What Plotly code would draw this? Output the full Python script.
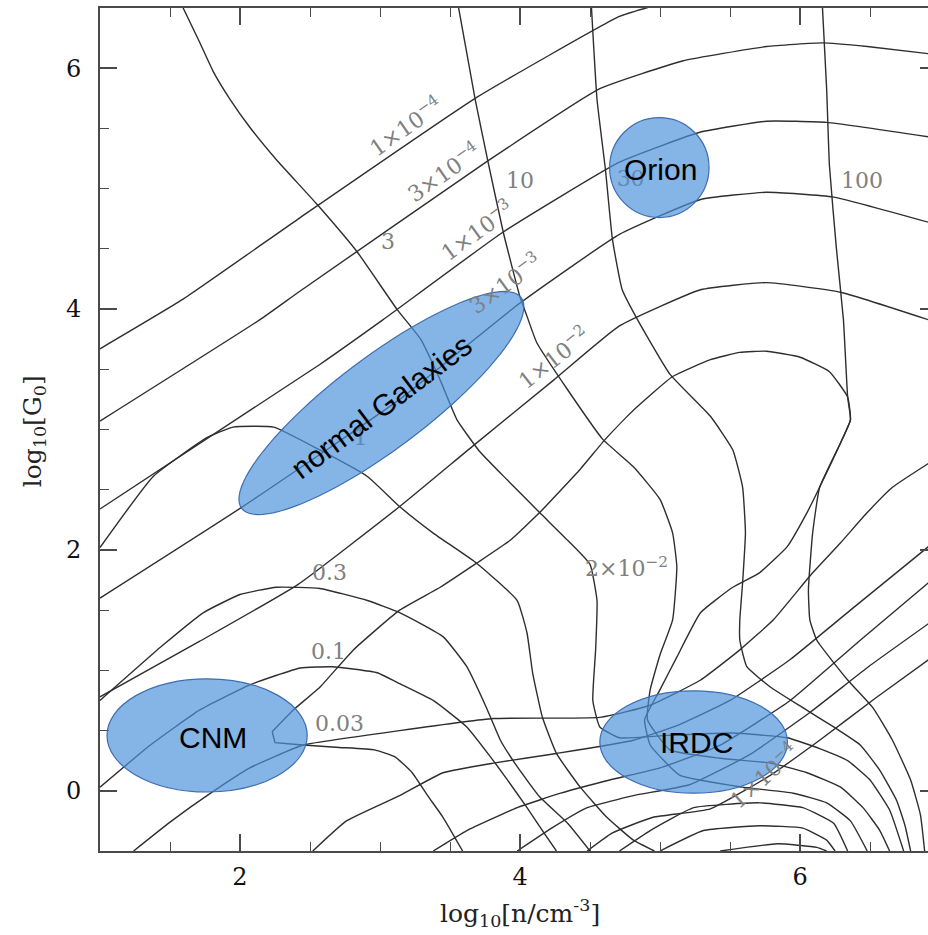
import math
import plotly.graph_objects as go

# ---------------- axis settings (data units) ----------------
X_RANGE = [1.0, 6.914]
Y_RANGE = [-0.5, 6.5]
X_TICKS = [2, 4, 6]
Y_TICKS = [0, 2, 4, 6]

# ---------------- contour lines: x = log10 n, y = log10 G0 ----------------
A1_X = [1.00, 1.59, 2.43, 3.68, 4.71, 4.93]
A1_Y = [3.67, 4.08, 4.76, 5.75, 6.43, 6.51]

A2_X = [1.00, 2.14, 2.43, 3.77, 4.57, 5.16, 5.76, 6.16, 6.48, 6.92]
A2_Y = [3.07, 3.91, 4.15, 5.23, 5.83, 6.06, 6.18, 6.21, 6.18, 6.12]

A3_X = [1.00, 2.57, 3.02, 3.88, 4.71, 5.29, 5.76, 6.19, 6.92]
A3_Y = [2.34, 3.54, 3.91, 4.64, 5.22, 5.47, 5.56, 5.55, 5.43]

A4_X = [1.00, 2.02, 3.14, 4.00, 4.71, 5.29, 5.76, 6.24, 6.92]
A4_Y = [1.60, 2.36, 3.25, 4.05, 4.62, 4.91, 4.97, 4.93, 4.72]

A5_X = [1.00, 1.71, 2.41, 3.14, 3.66, 4.24, 4.71, 5.29, 5.76, 6.29, 6.92]
A5_Y = [0.78, 1.24, 1.71, 2.36, 2.86, 3.41, 3.86, 4.16, 4.22, 4.14, 3.91]

A6_X = [2.23, 2.38, 2.57, 2.81, 3.14, 3.43, 3.69, 3.93, 4.14, 4.43, 4.61, 4.81, 5.09,
        5.36, 5.57, 5.76, 6.00, 6.21, 6.34, 6.36, 6.29, 6.14, 6.05, 5.91, 5.71, 5.52,
        5.29, 5.12, 5.00, 4.89, 4.93, 5.14, 5.59, 5.95, 6.19, 6.36, 6.48]
A6_Y = [0.49, 0.67, 0.86, 1.17, 1.50, 1.69, 1.89, 2.08, 2.31, 2.67, 2.92, 3.16, 3.44,
        3.58, 3.64, 3.65, 3.60, 3.48, 3.27, 3.08, 2.89, 2.52, 2.31, 2.03, 1.81, 1.69,
        1.48, 1.11, 0.84, 0.59, 0.38, 0.13, 0.03, -0.02, -0.10, -0.25, -0.50]

KINK_X = [2.23, 2.25, 2.45]
KINK_Y = [0.49, 0.40, 0.38]

A7_X = [1.24, 1.50, 1.79, 2.07, 2.24, 2.45, 3.14, 3.81, 4.57, 4.93, 5.29, 5.57, 5.81,
        6.09, 6.29, 6.48, 6.66, 6.92]
A7_Y = [-0.50, -0.26, -0.02, 0.19, 0.28, 0.38, 0.50, 0.60, 0.61, 0.71, 0.92, 1.17, 1.42,
        1.81, 2.06, 2.31, 2.52, 2.72]

D2_X = [2.52, 2.76, 3.14, 3.45, 3.81, 4.26, 4.81, 5.14, 5.50, 5.93, 6.36, 6.92]
D2_Y = [-0.50, -0.25, -0.04, 0.15, 0.23, 0.31, 0.42, 0.55, 0.75, 1.09, 1.50, 2.03]

D3_X = [3.38, 3.62, 3.98, 4.29, 4.64, 5.00, 5.43, 5.93, 6.43, 6.92]
D3_Y = [-0.50, -0.33, -0.14, -0.02, 0.09, 0.19, 0.38, 0.75, 1.25, 1.73]

D4_X = [3.98, 4.24, 4.48, 4.81, 5.21, 5.64, 6.07, 6.50, 6.92]
D4_Y = [-0.50, -0.30, -0.14, -0.04, 0.05, 0.30, 0.65, 1.04, 1.39]

D5_X = [4.48, 4.66, 4.95, 5.36, 5.79, 6.14, 6.54, 6.92]
D5_Y = [-0.50, -0.35, -0.22, -0.15, 0.13, 0.42, 0.77, 1.09]

B1_X = [1.00, 1.38, 1.76, 1.95, 2.24, 2.57, 2.91, 3.14, 3.38, 3.69, 3.98, 4.05, 4.09,
        4.16, 4.26, 4.43, 4.62, 4.81, 4.96]
B1_Y = [2.02, 2.61, 2.93, 3.02, 3.02, 2.83, 2.61, 2.36, 2.14, 1.89, 1.58, 1.31, 0.98,
        0.61, 0.31, 0.03, -0.22, -0.41, -0.50]

B03_X = [1.00, 1.45, 1.74, 2.00, 2.26, 2.57, 2.91, 3.14, 3.45, 3.62, 3.76, 3.86, 3.98,
         4.14, 4.34, 4.50]
B03_Y = [0.75, 1.21, 1.48, 1.63, 1.69, 1.68, 1.58, 1.48, 1.28, 1.03, 0.69, 0.42, 0.20,
         -0.05, -0.27, -0.50]

B01_X = [1.00, 1.36, 1.71, 2.07, 2.43, 2.66, 2.98, 3.14, 3.38, 3.62, 3.79, 3.91, 4.05,
         4.16, 4.26]
B01_Y = [0.03, 0.38, 0.67, 0.88, 1.02, 1.03, 0.98, 0.89, 0.75, 0.53, 0.28, 0.09, -0.14,
         -0.33, -0.50]

B003_X = [2.45, 2.71, 2.96, 3.11, 3.23, 3.34, 3.45, 3.59]
B003_Y = [0.38, 0.36, 0.34, 0.28, 0.15, -0.04, -0.22, -0.50]

B3_X = [1.59, 1.71, 1.81, 1.93, 2.07, 2.26, 2.55, 2.84, 3.12, 3.29, 3.43, 3.55, 3.71,
        3.91, 4.14, 4.34, 4.50, 4.55, 4.54, 4.52, 4.57, 4.71, 5.05, 5.52, 5.91, 6.14,
        6.34, 6.50, 6.64, 6.74]
B3_Y = [6.51, 6.22, 5.97, 5.74, 5.51, 5.24, 4.87, 4.47, 4.00, 3.75, 3.41, 3.08, 2.82,
        2.58, 2.31, 2.08, 1.88, 1.58, 1.17, 0.75, 0.53, 0.44, 0.46, 0.48, 0.44, 0.35,
        0.25, 0.09, -0.16, -0.50]

B10_X = [3.56, 3.68, 3.77, 3.88, 4.00, 4.05, 4.12, 4.34, 4.59, 4.81, 5.00, 5.09, 5.12,
         5.09, 5.00, 4.93, 4.91, 5.07, 5.43, 5.79, 6.05, 6.29, 6.45, 6.57, 6.64]
B10_Y = [6.51, 5.74, 5.23, 4.64, 4.10, 3.94, 3.72, 3.33, 2.92, 2.69, 2.42, 2.14, 1.86,
         1.42, 1.13, 0.84, 0.59, 0.34, 0.27, 0.23, 0.15, 0.03, -0.14, -0.33, -0.50]

B30_X = [4.51, 4.55, 4.61, 4.66, 4.73, 4.84, 5.07, 5.36, 5.52, 5.59, 5.61, 5.59, 5.57,
         5.57, 5.62, 5.79, 6.02, 6.24, 6.43, 6.57, 6.69, 6.75, 6.79]
B30_Y = [6.51, 5.74, 5.16, 4.58, 4.16, 3.91, 3.46, 3.11, 2.83, 2.52, 2.14, 1.73, 1.42,
         1.25, 1.03, 0.86, 0.69, 0.53, 0.38, 0.17, -0.08, -0.29, -0.50]

B100_X = [6.16, 6.19, 6.21, 6.26, 6.31, 6.34, 6.36, 6.29, 6.14, 6.09, 6.06, 6.07, 6.12,
          6.34, 6.52, 6.66, 6.79, 6.86, 6.89]
B100_Y = [6.51, 5.83, 5.19, 4.50, 3.91, 3.27, 3.08, 2.89, 2.52, 2.14, 1.67, 1.42, 1.25,
          0.92, 0.69, 0.42, 0.09, -0.20, -0.50]

ARC_D_X = [4.71, 4.93, 5.24, 5.71, 6.02, 6.24, 6.34]
ARC_D_Y = [-0.50, -0.33, -0.14, -0.10, -0.14, -0.27, -0.50]
ARC_E_X = [5.00, 5.31, 5.71, 6.02, 6.19, 6.25]
ARC_E_Y = [-0.50, -0.33, -0.29, -0.31, -0.41, -0.50]
ARC_F_X = [5.43, 5.84, 6.12, 6.19]
ARC_F_Y = [-0.50, -0.44, -0.47, -0.50]

LINES = [
    (A1_X, A1_Y), (A2_X, A2_Y), (A3_X, A3_Y), (A4_X, A4_Y), (A5_X, A5_Y),
    (A6_X, A6_Y), (A7_X, A7_Y), (D2_X, D2_Y), (D3_X, D3_Y), (D4_X, D4_Y),
    (D5_X, D5_Y), (B1_X, B1_Y), (B03_X, B03_Y), (B01_X, B01_Y), (B003_X, B003_Y),
    (B3_X, B3_Y), (B10_X, B10_Y), (B30_X, B30_Y), (B100_X, B100_Y),
    (ARC_D_X, ARC_D_Y), (ARC_E_X, ARC_E_Y), (ARC_F_X, ARC_F_Y),
]

# ---------------- contour labels ----------------
ROT_LABELS = ["1×10<sup>−4</sup>", "3×10<sup>−4</sup>", "1×10<sup>−3</sup>",
              "3×10<sup>−3</sup>", "1×10<sup>−2</sup>", "2×10<sup>−2</sup>",
              "1×10<sup>−4</sup>", "3", "10", "100", "0.3", "0.1", "0.03"]
ROT_LABEL_X = [3.18, 3.45, 3.69, 3.89, 4.24, 4.76, 5.74, 3.06, 4.00, 6.44, 2.64, 2.63, 2.71]
ROT_LABEL_Y = [5.52, 5.14, 4.66, 4.22, 3.60, 1.86, 0.13, 4.56, 5.07, 5.07, 1.81, 1.16, 0.56]
ROT_LABEL_ANGLE = [-35, -35, -36, -36, -38, 0, -42, 0, 0, 0, 0, 0, 0]

HIDDEN_LABELS = ["30", "1"]          # labels drawn beneath the blue regions
HIDDEN_LABEL_X = [4.79, 2.86]
HIDDEN_LABEL_Y = [5.07, 2.92]

# ---------------- highlighted regions ----------------
REGION_NAMES = ["Orion", "CNM", "IRDC"]
REGION_X0 = [4.64, 1.05, 4.57]
REGION_X1 = [5.35, 2.48, 5.91]
REGION_Y0 = [4.76, -0.01, -0.02]
REGION_Y1 = [5.59, 0.93, 0.83]
REGION_TEXT_X = [5.00, 1.81, 5.26]
REGION_TEXT_Y = [5.16, 0.44, 0.40]

GAL_NAME = "normal Galaxies"
GAL_CENTER = (3.01, 3.22)
GAL_TEXT = (3.01, 3.19)
GAL_SEMI_AXES_PX = (175, 46)
GAL_ANGLE_DEG = 37

# ---------------- figure ----------------
W, H = 928, 935
M = dict(l=100, r=0, t=8, b=84)
PLOT_W = W - M["l"] - M["r"]
PLOT_H = H - M["t"] - M["b"]
PX_X = PLOT_W / (X_RANGE[1] - X_RANGE[0])
PX_Y = PLOT_H / (Y_RANGE[1] - Y_RANGE[0])

LINE_COL = "#2e2e2e"
AX_COL = "#4a4a4a"
LABEL_COL = "#808080"
FILL = "rgba(75,145,218,0.68)"
EDGE = "rgb(62,110,178)"
SERIF = "DejaVu Serif"
SANS = "Liberation Sans, Arial"

fig = go.Figure()
for xs, ys in LINES:
    fig.add_trace(go.Scatter(x=xs, y=ys, mode="lines",
                             line=dict(color=LINE_COL, width=1.4, shape="spline", smoothing=0.4),
                             hoverinfo="skip", showlegend=False))
fig.add_trace(go.Scatter(x=KINK_X, y=KINK_Y, mode="lines",
                         line=dict(color=LINE_COL, width=1.4),
                         hoverinfo="skip", showlegend=False))
fig.add_trace(go.Scatter(x=HIDDEN_LABEL_X, y=HIDDEN_LABEL_Y, mode="text", text=HIDDEN_LABELS,
                         textfont=dict(family=SERIF, size=22, color=LABEL_COL),
                         hoverinfo="skip", showlegend=False))
# dummy trace to activate the right-hand tick axis
fig.add_trace(go.Scatter(x=[X_RANGE[0]], y=[0], yaxis="y2", mode="markers",
                         marker=dict(opacity=0), hoverinfo="skip", showlegend=False))

for i, t in enumerate(ROT_LABELS):
    fig.add_annotation(x=ROT_LABEL_X[i], y=ROT_LABEL_Y[i], text=t, showarrow=False,
                       textangle=ROT_LABEL_ANGLE[i],
                       font=dict(family=SERIF, size=22, color=LABEL_COL))

for i, name in enumerate(REGION_NAMES):
    fig.add_shape(type="circle", xref="x", yref="y",
                  x0=REGION_X0[i], x1=REGION_X1[i], y0=REGION_Y0[i], y1=REGION_Y1[i],
                  fillcolor=FILL, line=dict(color=EDGE, width=1.2), layer="above")
    fig.add_annotation(x=REGION_TEXT_X[i], y=REGION_TEXT_Y[i], text=name, showarrow=False,
                       font=dict(family=SANS, size=30, color="black"))

# rotated ellipse for normal galaxies
a, b = GAL_SEMI_AXES_PX
th = math.radians(GAL_ANGLE_DEG)
pts = []
for k in range(97):
    t = 2 * math.pi * k / 96
    dxp = a * math.cos(t) * math.cos(th) - b * math.sin(t) * math.sin(th)
    dyp = a * math.cos(t) * math.sin(th) + b * math.sin(t) * math.cos(th)
    pts.append((GAL_CENTER[0] + dxp / PX_X, GAL_CENTER[1] + dyp / PX_Y))
path = "M " + " L ".join(f"{px:.4f},{py:.4f}" for px, py in pts) + " Z"
fig.add_shape(type="path", xref="x", yref="y", path=path,
              fillcolor=FILL, line=dict(color=EDGE, width=1.2), layer="above")
fig.add_annotation(x=GAL_TEXT[0], y=GAL_TEXT[1], text=GAL_NAME, showarrow=False,
                   textangle=-GAL_ANGLE_DEG, font=dict(family=SANS, size=30, color="black"))

# axis titles
fig.add_annotation(xref="x", yref="paper", x=4.0, y=-62 / PLOT_H,
                   xanchor="center", yanchor="middle",
                   text="log<sub>10</sub>[n/cm<sup>-3</sup>]", showarrow=False,
                   font=dict(family=SERIF, size=25, color="#222"))
fig.add_annotation(xref="paper", yref="y", x=-66 / PLOT_W, y=2.985,
                   xanchor="center", yanchor="middle",
                   text="log<sub>10</sub>[G<sub>0</sub>]", showarrow=False, textangle=-90,
                   font=dict(family=SERIF, size=25, color="#222"))

common = dict(showgrid=False, zeroline=False, showline=True, linecolor=AX_COL, linewidth=2,
              ticks="inside", ticklen=17, tickwidth=1.5, tickcolor=AX_COL,
              tickfont=dict(family=SERIF, size=24, color="#111"))
fig.update_layout(
    width=W, height=H, margin=M, paper_bgcolor="white", plot_bgcolor="white",
    showlegend=False,
    xaxis=dict(range=X_RANGE, tickmode="array", tickvals=X_TICKS, mirror="ticks",
               ticklabelstandoff=3,
               minor=dict(tickmode="linear", tick0=0, dtick=0.5, ticks="inside",
                          ticklen=9, tickwidth=1.2, tickcolor=AX_COL), **common),
    yaxis=dict(range=Y_RANGE, tickmode="array", tickvals=Y_TICKS, mirror=False,
               ticklabelstandoff=12,
               minor=dict(tickmode="linear", tick0=0, dtick=0.5, ticks="inside",
                          ticklen=9, tickwidth=1.2, tickcolor=AX_COL), **common),
    yaxis2=dict(range=Y_RANGE, overlaying="y", side="right", tickmode="array",
                tickvals=Y_TICKS, ticks="inside", ticklen=8, tickwidth=1.5,
                tickcolor=AX_COL, showticklabels=False, showline=False,
                showgrid=False, zeroline=False),
)

fig.write_html("out.html")
